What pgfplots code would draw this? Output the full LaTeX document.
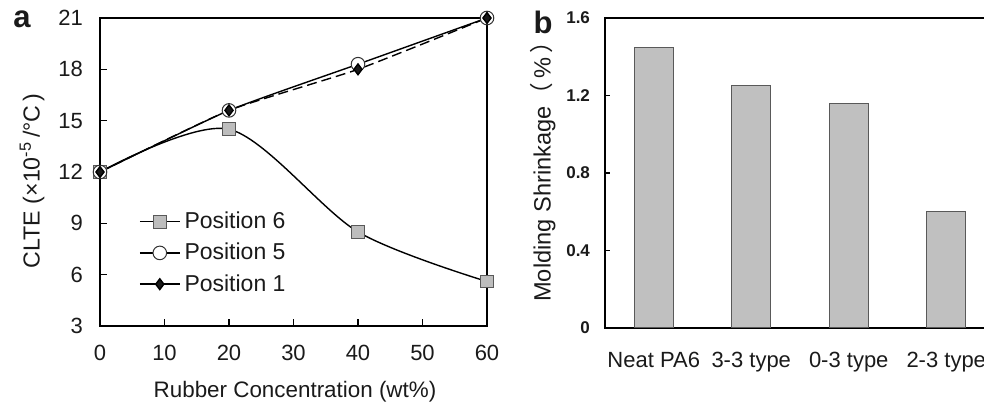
\documentclass[border=0pt]{standalone}
\usepackage{pgfplots}
\pgfplotsset{compat=1.18}
\usepackage{fontspec}
\setmainfont{Liberation Sans}
\newfontfamily\cjk{Noto Sans CJK SC}
\definecolor{txt}{HTML}{1A1A1A}
\definecolor{barfill}{HTML}{C0C0C0}
\definecolor{sqfill}{HTML}{BDBDBD}
\begin{document}
\begin{tikzpicture}[x=1pt,y=1pt]
% ---------- panel a ----------
\begin{axis}[
  at={(50pt,39.5pt)}, anchor=south west,
  scale only axis, width=193.5pt, height=154pt,
  xmin=0, xmax=60, ymin=3, ymax=21,
  xtick={0,10,...,60}, ytick={3,6,...,21},
  tick align=inside, major tick length=3.5pt,
  xtick pos=bottom, ytick pos=left,
  axis line style={line width=0.8pt, black},
  tick style={line width=0.6pt, black},
  /pgf/number format/assume math mode=true,
  tick label style={font=\fontsize{11}{13}\selectfont, text=txt},
  xticklabel style={yshift=-6pt},
  yticklabel style={xshift=-5pt},
  clip=false,
  legend style={draw=none, fill=none, at={(0.10,0.385)}, anchor=north west,
    font=\fontsize{11.5}{13.5}\selectfont, text=txt, row sep=1.8pt,
    inner sep=0pt, /tikz/every even column/.append style={column sep=2pt}},
  legend cell align=left,
  legend image post style={sharp plot},
  legend image code/.code={
    \draw[#1, solid] (0pt,0pt) -- (20pt,0pt);
    \draw[#1, solid] plot coordinates {(10pt,0pt)};},
]
\addplot[black, line width=0.7pt, smooth, tension=0.5,
  mark=square*, mark size=3.2pt, mark options={fill=sqfill, draw=gray!70!black, line width=0.5pt, solid}]
  coordinates {(0,12) (20,14.5) (40,8.5) (60,5.6)};
\addlegendentry{Position 6}
\addplot[black, line width=0.7pt, smooth, tension=0.3,
  mark=*, mark size=3.4pt, mark options={fill=white, draw=black!80, line width=0.5pt, solid}]
  coordinates {(0,12) (20,15.6) (40,18.3) (60,21)};
\addlegendentry{Position 5}
\addplot[black, line width=0.7pt, dash pattern=on 5pt off 2.5pt, smooth, tension=0.3,
  mark=diamond*, mark size=2.7pt, mark options={fill=black!90, draw=black, solid}]
  coordinates {(0,12) (20,15.6) (40,18.0) (60,21)};
\addlegendentry{Position 1}
\end{axis}
\node[font=\bfseries\fontsize{15.5}{17}\selectfont, text=txt] at (11pt,193pt) {a};
\node[font=\fontsize{11.6}{13}\selectfont, text=txt, rotate=90] at (16pt,112pt) {CLTE (×10\textsuperscript{-5}\,/°C\,)};
\node[font=\fontsize{11.2}{13}\selectfont, text=txt] at (147.5pt,6.5pt) {Rubber Concentration (wt\%)};
% ---------- panel b ----------
\begin{axis}[
  at={(302.5pt,38.5pt)}, anchor=south west,
  scale only axis, width=195pt, height=155pt,
  xmin=0.5, xmax=4.5, ymin=0, ymax=1.6,
  xtick={1,2,3,4},
  xticklabels={Neat PA6, 3-3 type, 0-3 type, 2-3 type},
  ytick={0,0.4,0.8,1.2,1.6},
  yticklabels={0,0.4,0.8,1.2,1.6},
  major x tick style={draw=none},
  tick align=inside, major tick length=2.5pt,
  ytick pos=left,
  axis line style={line width=0.8pt, black},
  tick style={line width=0.6pt, black},
  xticklabel style={font=\fontsize{11}{13}\selectfont, text=txt, yshift=-8.5pt},
  yticklabel style={font=\bfseries\fontsize{8.5}{10}\selectfont, text=txt, xshift=-4pt},
  clip=false,
]
\addplot[ybar, bar width=19.5pt, fill=barfill, draw=black!65, line width=0.5pt]
  coordinates {(1,1.45) (2,1.25) (3,1.16) (4,0.6)};
\end{axis}
\node[font=\bfseries\fontsize{15.5}{17}\selectfont, text=txt] at (271.5pt,191.5pt) {b};
\node[font=\fontsize{11.8}{14}\selectfont, text=txt, rotate=90] at (271.5pt,119.5pt) {Molding Shrinkage{\cjk （}\,\%\,{\cjk ）}};
\pgfresetboundingbox
\path[use as bounding box] (0pt,0pt) rectangle (492pt,202.5pt);
\end{tikzpicture}
\end{document}
